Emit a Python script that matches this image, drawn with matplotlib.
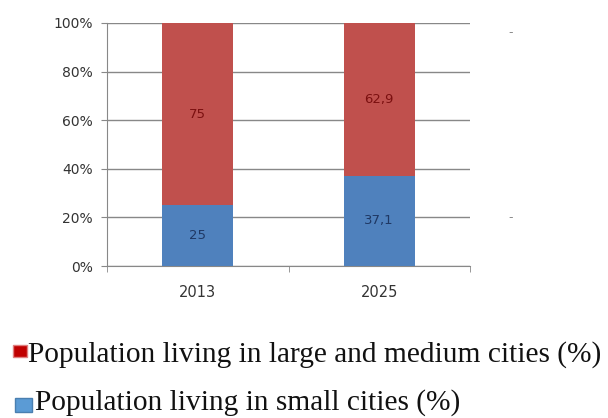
import matplotlib
matplotlib.use('Agg')
import matplotlib.pyplot as plt
from matplotlib.patches import Rectangle
from matplotlib.ticker import FixedLocator

years = ['2013', '2025']
small_cities = [25, 37.1]
large_cities = [75, 62.9]
small_labels = ['25', '37,1']
large_labels = ['75', '62,9']
legend_labels = ['Population living in large and medium cities (%)',
                 'Population living in small cities (%)']

red = '#C0504D'
blue = '#4F81BD'

W, H = 608, 418
fig = plt.figure(figsize=(W / 100, H / 100), dpi=100)
ax = fig.add_axes([107 / W, 1 - 266 / H, 363 / W, 243 / H])

x = range(len(years))
ax.bar(x, small_cities, width=0.39, color=blue, zorder=3)
ax.bar(x, large_cities, width=0.39, bottom=small_cities, color=red, zorder=3)

# valeurs dans les barres
for i in x:
    ax.text(i, small_cities[i] / 2, small_labels[i], ha='center', va='center',
            fontsize=9.5, color='#1F3864', zorder=4)
    ax.text(i, small_cities[i] + large_cities[i] / 2, large_labels[i],
            ha='center', va='center', fontsize=9.5, color='#7B1010', zorder=4)

ax.set_xlim(-0.5, 1.5)
ax.set_ylim(0, 100)
ax.set_yticks([0, 20, 40, 60, 80, 100])
ax.set_yticklabels(['0%', '20%', '40%', '60%', '80%', '100%'])
ax.set_xticks(list(x))
ax.set_xticklabels(years)
ax.xaxis.set_minor_locator(FixedLocator([-0.5, 0.5, 1.5]))
ax.tick_params(axis='x', which='major', length=0, pad=14, labelsize=10.5, labelcolor='#333333')
ax.tick_params(axis='x', which='minor', length=4, color='#888888', direction='out')
ax.tick_params(axis='y', length=4, color='#888888', labelsize=10, labelcolor='#333333', pad=6)
ax.grid(True, axis='y', color='#888888', linewidth=1, zorder=0)
for s in ['top', 'right']:
    ax.spines[s].set_visible(False)
ax.spines['left'].set_color('#888888')
ax.spines['bottom'].set_color('#888888')

# petits tirets à droite
fig.text(511 / W, 1 - 33 / H, '-', ha='center', va='center', fontsize=9, color='#888888')
fig.text(511 / W, 1 - 218 / H, '-', ha='center', va='center', fontsize=9, color='#888888')

# légende sous le graphique
fig.patches.append(Rectangle((13 / W, 1 - 357 / H), 14 / W, 12 / H,
                             transform=fig.transFigure, facecolor='#C00000',
                             edgecolor='#E08080', linewidth=1))
fig.patches.append(Rectangle((15 / W, 1 - 412 / H), 17 / W, 14 / H,
                             transform=fig.transFigure, facecolor='#5B9BD5',
                             edgecolor='#4A7FB0', linewidth=1))
fig.text(28 / W, 1 - 362 / H, legend_labels[0], ha='left', va='baseline',
         fontsize=21.2, family='Liberation Serif', color='#111111')
fig.text(35 / W, 1 - 410 / H, legend_labels[1], ha='left', va='baseline',
         fontsize=21.2, family='Liberation Serif', color='#111111')

fig.savefig('out.png', dpi=100, facecolor='white')
